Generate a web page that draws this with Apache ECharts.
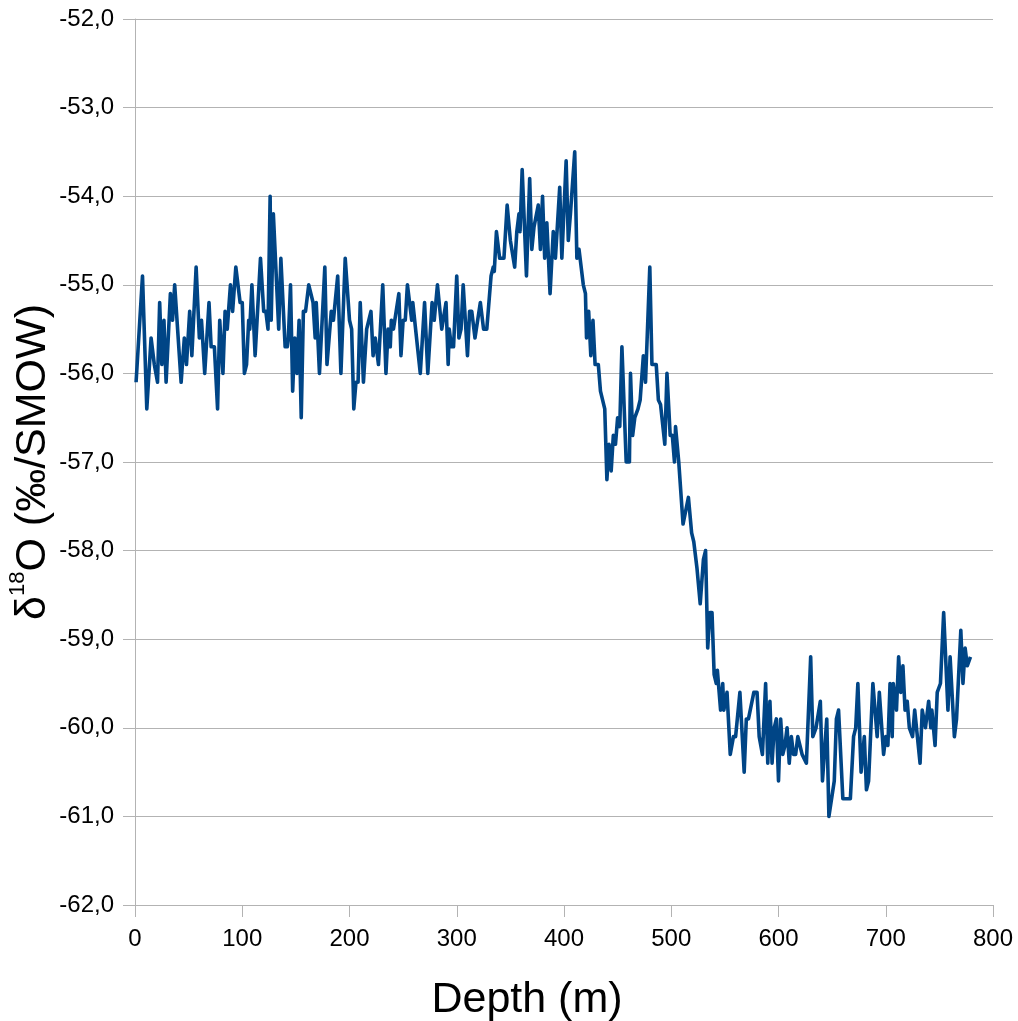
<!DOCTYPE html>
<html>
<head>
<meta charset="utf-8">
<title>δ18O profile</title>
<script src="https://cdn.jsdelivr.net/npm/echarts@6/dist/echarts.min.js"></script>
<style>
  html, body { margin: 0; padding: 0; background: #ffffff; }
  #chart { width: 1018px; height: 1021px; }
</style>
</head>
<body>
<div id="chart"></div>
<script>
// Depth below surface (m)
const depths = [
  1, 7, 11, 15, 18, 21, 23, 25, 27, 29, 33, 35, 37, 43, 46, 48, 51, 53, 57, 60,
  62, 65, 69, 71, 74, 77, 79, 82, 84, 86, 89, 91, 94, 98, 100, 102, 104, 106, 107, 109,
  112, 113, 117, 120, 122, 124, 126, 127, 129, 134, 136, 140, 142, 143, 145, 147, 149, 151, 153, 155,
  157, 159, 162, 166, 168, 169, 172, 177, 179, 183, 185, 189, 192, 196, 200, 202, 204, 206, 208, 210,
  213, 216, 220, 222, 224, 227, 231, 234, 236, 238, 239, 241, 246, 248, 250, 252, 254, 258, 259, 266,
  270, 273, 277, 279, 282, 286, 290, 292, 293, 295, 297, 300, 302, 304, 306, 310, 312, 314, 317, 322,
  325, 328, 332, 334, 335, 337, 340, 344, 347, 350, 354, 356, 358, 359, 361, 365, 368, 370, 372, 376,
  378, 380, 382, 384, 387, 390, 392, 396, 398, 402, 404, 406, 410, 412, 414, 418, 420, 421, 423, 425,
  427, 429, 432, 434, 438, 440, 442, 444, 446, 448, 450, 452, 454, 458, 461, 462, 464, 466, 469, 471,
  474, 476, 480, 482, 486, 488, 490, 494, 496, 499, 501, 503, 504, 507, 511, 512, 516, 519, 521, 524,
  527, 530, 532, 534, 536, 538, 540, 542, 543, 546, 548, 549, 552, 555, 558, 560, 564, 568, 570, 572,
  577, 580, 582, 585, 588, 590, 592, 594, 596, 598, 600, 602, 604, 606, 608, 610, 612, 614, 616, 618,
  620, 622, 626, 630, 632, 635, 639, 641, 645, 647, 652, 654, 656, 660, 667, 670, 672, 674, 677, 680,
  682, 684, 688, 692, 694, 698, 700, 702, 704, 706, 707, 710, 712, 714, 716, 718, 720, 722, 725, 727,
  732, 734, 737, 740, 742, 743, 746, 748, 751, 754, 758, 760, 764, 766, 770, 772, 774, 776, 779
];

// δ18O (‰ vs SMOW) at each depth
const d18O = [
  -56.1, -54.9, -56.4, -55.6, -55.9, -56.1, -55.2, -55.9, -55.4, -56.1, -55.1, -55.4, -55.0, -56.1, -55.6, -55.9, -55.3, -55.8, -54.8, -55.6,
  -55.4, -56.0, -55.2, -55.7, -55.7, -56.4, -55.4, -56.0, -55.3, -55.5, -55.0, -55.3, -54.8, -55.2, -55.2, -56.0, -55.9, -55.4, -55.5, -55.0,
  -55.8, -55.8, -54.7, -55.3, -55.3, -55.5, -54.0, -55.4, -54.2, -55.5, -54.7, -55.7, -55.7, -55.6, -55.0, -56.2, -55.6, -56.0, -55.4, -56.5,
  -55.3, -55.3, -55.0, -55.2, -55.6, -55.2, -56.0, -54.8, -55.9, -55.3, -55.4, -54.9, -56.0, -54.7, -55.4, -55.5, -56.4, -56.1, -56.1, -55.2,
  -56.1, -55.5, -55.3, -55.8, -55.6, -55.9, -55.0, -56.0, -55.5, -55.7, -55.4, -55.5, -55.1, -55.8, -55.4, -55.4, -55.0, -55.4, -55.2, -56.0,
  -55.2, -56.0, -55.2, -55.4, -55.0, -55.5, -55.2, -55.9, -55.5, -55.7, -55.7, -54.9, -55.6, -55.5, -55.0, -55.8, -55.3, -55.3, -55.6, -55.2,
  -55.5, -55.5, -54.9, -54.8, -54.85, -54.4, -54.7, -54.7, -54.1, -54.5, -54.8, -54.4, -54.2, -54.4, -53.7, -54.9, -53.8, -54.6, -54.35, -54.1,
  -54.6, -54.0, -54.7, -54.3, -55.1, -54.4, -54.7, -53.9, -54.7, -53.6, -54.5, -54.2, -53.5, -54.7, -54.6, -55.0, -55.1, -55.6, -55.3, -55.8,
  -55.4, -55.9, -55.9, -56.2, -56.4, -57.2, -56.8, -57.1, -56.7, -56.8, -56.5, -56.6, -55.7, -57.0, -57.0, -56.0, -56.7, -56.5, -56.4, -56.3,
  -55.8, -56.1, -54.8, -55.9, -55.9, -56.3, -56.35, -56.8, -56.0, -56.7, -56.7, -57.0, -56.6, -57.0, -57.7, -57.7, -57.4, -57.8, -57.9, -58.2,
  -58.6, -58.1, -58.0, -59.1, -58.7, -58.7, -59.4, -59.5, -59.35, -59.8, -59.5, -59.8, -59.6, -60.3, -60.1, -60.1, -59.6, -60.5, -59.9, -59.9,
  -59.6, -59.6, -60.1, -60.3, -59.5, -60.4, -59.7, -60.4, -60.0, -59.9, -60.6, -59.9, -60.3, -60.2, -60.0, -60.4, -60.1, -60.3, -60.3, -60.1,
  -60.2, -60.3, -60.4, -59.2, -60.1, -60.0, -59.7, -60.6, -59.9, -61.0, -60.6, -59.9, -59.8, -60.8, -60.8, -60.1, -60.0, -59.5, -60.5, -60.1,
  -60.7, -60.6, -59.5, -60.1, -59.6, -60.3, -60.1, -60.2, -59.5, -60.1, -59.5, -59.8, -59.2, -59.6, -59.3, -59.8, -59.7, -60.0, -60.1, -59.8,
  -60.4, -59.8, -60.0, -59.7, -60.0, -59.8, -60.2, -59.6, -59.5, -58.7, -59.8, -59.2, -60.1, -59.9, -58.9, -59.5, -59.1, -59.3, -59.2
];

// Axis ranges and tick steps
const depthTicks = { min: 0, max: 800, step: 100 };
const isoTicks = { min: -62, max: -52, step: 1 };

const FONT = '"Liberation Sans", Arial, sans-serif';
const GRID_GRAY = '#b3b3b3';

const points = depths.map((d, i) => [d, d18O[i]]);

const chart = echarts.init(document.getElementById('chart'), null, { renderer: 'canvas' });

chart.setOption({
  backgroundColor: '#ffffff',
  animation: false,
  grid: { left: 135, right: 25, top: 19, bottom: 116, containLabel: false, outerBoundsMode: 'none' },
  xAxis: {
    type: 'value',
    min: depthTicks.min,
    max: depthTicks.max,
    interval: depthTicks.step,
    name: 'Depth (m)',
    nameLocation: 'middle',
    nameGap: 74,
    nameMoveOverlap: false,
    nameTextStyle: { fontFamily: FONT, fontSize: 43, color: '#000', padding: [0, 74, 0, 0] },
    axisLine: { show: true, lineStyle: { color: GRID_GRAY, width: 1 } },
    axisTick: { show: true, inside: false, length: 12, lineStyle: { color: GRID_GRAY } },
    axisLabel: { fontFamily: FONT, fontSize: 24, color: '#000', margin: 22 },
    splitLine: { show: false }
  },
  yAxis: {
    type: 'value',
    min: isoTicks.min,
    max: isoTicks.max,
    interval: isoTicks.step,
    name: '{t|δ}{s|18}{t|O (‰/SMOW)}',
    nameLocation: 'middle',
    nameRotate: 90,
    nameGap: 80,
    nameMoveOverlap: false,
    nameTextStyle: {
      fontFamily: FONT,
      color: '#000',
      rich: {
        t: { fontFamily: FONT, fontSize: 43, lineHeight: 48, verticalAlign: 'bottom', color: '#000' },
        s: { fontFamily: FONT, fontSize: 22, lineHeight: 24, verticalAlign: 'top', color: '#000' }
      }
    },
    axisLine: { show: true, lineStyle: { color: GRID_GRAY, width: 1 } },
    axisTick: { show: true, inside: false, length: 12, lineStyle: { color: GRID_GRAY } },
    axisLabel: {
      fontFamily: FONT, fontSize: 24, color: '#000', margin: 21,
      formatter: v => v.toFixed(1).replace('.', ',')
    },
    splitLine: { show: true, lineStyle: { color: GRID_GRAY, width: 1 } }
  },
  series: [{
    type: 'line',
    data: points,
    showSymbol: false,
    symbol: 'none',
    lineStyle: { color: '#004586', width: 3.6, join: 'round' },
    itemStyle: { color: '#004586' }
  }]
});
</script>
</body>
</html>
